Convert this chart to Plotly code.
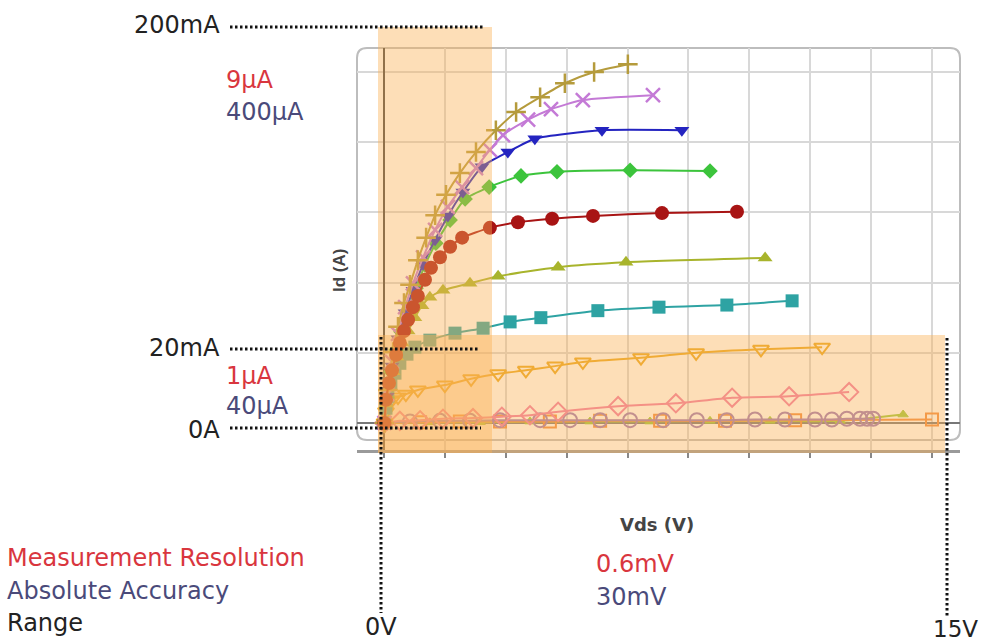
import plotly.graph_objects as go

# ---------------- data (Vds in V, Id in A) ----------------
olive_v = [0, 0.09, 0.23, 0.36, 0.52, 0.68, 0.89, 1.11, 1.35, 1.64, 2.01, 2.44, 2.97, 3.51, 4.15, 4.81, 5.59, 6.49]
olive_i = [0, 0.047, 0.101, 0.137, 0.171, 0.197, 0.232, 0.264, 0.296, 0.325, 0.356, 0.386, 0.417, 0.443, 0.464, 0.484, 0.500, 0.511]

magenta_v = [0, 0.07, 0.20, 0.36, 0.55, 0.76, 1.03, 1.35, 1.69, 2.07, 2.44, 2.81, 3.16, 3.83, 4.44, 5.29, 7.16]
magenta_i = [0, 0.041, 0.087, 0.127, 0.165, 0.199, 0.236, 0.275, 0.308, 0.336, 0.363, 0.389, 0.410, 0.432, 0.447, 0.460, 0.467]

blue_v = [0, 0.07, 0.20, 0.36, 0.55, 0.76, 1.03, 1.35, 1.69, 2.09, 2.60, 3.29, 4.01, 5.80, 7.93]
blue_i = [0, 0.038, 0.081, 0.120, 0.157, 0.189, 0.226, 0.261, 0.295, 0.329, 0.365, 0.386, 0.405, 0.417, 0.417]

green_v = [0, 0.07, 0.17, 0.31, 0.44, 0.63, 0.84, 1.08, 1.37, 1.75, 2.15, 2.79, 3.64, 4.60, 6.55, 8.68]
green_i = [0, 0.036, 0.073, 0.104, 0.130, 0.161, 0.192, 0.225, 0.256, 0.289, 0.319, 0.336, 0.352, 0.358, 0.360, 0.359]

red_v = [0, 0.04, 0.12, 0.20, 0.31, 0.41, 0.52, 0.63, 0.76, 0.89, 1.08, 1.24, 1.48, 1.75, 2.07, 2.81, 3.56, 4.47, 5.56, 7.40, 9.40]
red_i = [0, 0.033, 0.057, 0.075, 0.097, 0.114, 0.131, 0.147, 0.165, 0.181, 0.204, 0.221, 0.236, 0.251, 0.264, 0.278, 0.286, 0.291, 0.295, 0.299, 0.301]

yg_v = [0, 0.04, 0.12, 0.23, 0.33, 0.47, 0.63, 0.81, 1.00, 1.21, 1.56, 2.28, 3.03, 4.63, 6.44, 10.15]
yg_i = [0, 0.027, 0.050, 0.073, 0.094, 0.114, 0.131, 0.150, 0.167, 0.179, 0.189, 0.199, 0.209, 0.222, 0.229, 0.235]

teal_v = [0, 0.04, 0.09, 0.17, 0.28, 0.41, 0.60, 0.81, 1.21, 1.88, 2.63, 3.35, 4.17, 5.69, 7.32, 9.13, 10.87]
teal_i = [0, 0.021, 0.038, 0.056, 0.071, 0.085, 0.098, 0.108, 0.118, 0.128, 0.135, 0.144, 0.150, 0.160, 0.165, 0.168, 0.174]

gold_v = [0, 0.04, 0.09, 0.20, 0.36, 0.57, 0.89, 1.61, 2.31, 3.03, 3.77, 4.55, 5.29, 6.84, 8.31, 10.04, 11.67]
gold_i = [0, 0.016, 0.026, 0.033, 0.037, 0.041, 0.047, 0.054, 0.063, 0.070, 0.075, 0.081, 0.087, 0.093, 0.100, 0.105, 0.108]

pink_v = [0, 0.41, 0.95, 1.56, 2.36, 3.13, 3.88, 4.63, 6.23, 7.77, 9.27, 10.79, 12.39]
pink_i = [0, 0.003, 0.004, 0.006, 0.007, 0.009, 0.011, 0.016, 0.024, 0.028, 0.036, 0.038, 0.044]

purple_v = [0, 0.68, 1.48, 2.28, 3.08, 4.15, 4.95, 5.75, 6.55, 7.43, 8.33, 9.13, 9.88, 10.68, 11.48, 11.93, 12.33, 12.68, 12.87, 13.03]
purple_i = [0, 0.002, 0.003, 0.003, 0.004, 0.004, 0.004, 0.004, 0.004, 0.004, 0.004, 0.004, 0.005, 0.005, 0.005, 0.005, 0.006, 0.006, 0.006, 0.006]

orange_v = [0, 0.95, 2.01, 3.08, 4.41, 5.75, 7.35, 9.08, 10.95, 14.60]
orange_i = [0, 0.001, 0.002, 0.002, 0.002, 0.003, 0.003, 0.003, 0.004, 0.005]

lgreen_v = [0, 1.21, 2.55, 3.88, 5.48, 7.08, 8.68, 10.28, 12.15, 13.83]
lgreen_i = [0, 0.001, 0.001, 0.002, 0.002, 0.002, 0.003, 0.003, 0.003, 0.012]

# range annotation texts
i_range_hi = "200mA"
i_res_hi = "9µA"
i_acc_hi = "400µA"
i_range_lo = "20mA"
i_res_lo = "1µA"
i_acc_lo = "40µA"
i_zero = "0A"
v_res = "0.6mV"
v_acc = "30mV"
v_zero = "0V"
v_max = "15V"

# ---------------- figure ----------------
W, H = 982, 641
L, R, T, B = 357, 960, 48, 450   # plot area pixel box


def px(x):
    return (x - L) / (R - L)


def py(y):
    return (B - y) / (B - T)


fig = go.Figure()

series = [
    (lgreen_v, lgreen_i, "#9cc83c", "triangle-up", 9, 1),
    (orange_v, orange_i, "#f08a40", "square-open", 12, 2),
    (purple_v, purple_i, "#9a78b8", "circle-open", 14, 2),
    (pink_v, pink_i, "#f07aaa", "diamond-open", 14, 2),
    (gold_v, gold_i, "#e8a820", "triangle-down-open", 14, 2),
    (teal_v, teal_i, "#2ea3a3", "square", 13, 0),
    (yg_v, yg_i, "#a8b42c", "triangle-up", 13, 0),
    (green_v, green_i, "#3cc43c", "diamond", 12, 0),
    (blue_v, blue_i, "#2424c0", "triangle-down", 13, 0),
    (magenta_v, magenta_i, "#c47ad6", "x-thin", 14, 2.5),
    (olive_v, olive_i, "#b59b3c", "cross-thin", 14, 2.5),
    (red_v, red_i, "#a81414", "circle", 14, 0),
]

for xs, ys, col, sym, size, lw in series:
    fig.add_trace(go.Scatter(
        x=xs, y=ys, mode="lines+markers",
        line=dict(color=col, width=2, shape="spline", smoothing=0.6),
        marker=dict(symbol=sym, size=size, color=col,
                    line=dict(color=col, width=lw)),
        showlegend=False, hoverinfo="skip",
    ))

shapes = []
# rounded plot box
r = 10
x0, x1, y0, y1 = 357, 960, 48, 440
path = (f"M {px(x0 + r)},{py(y0)} L {px(x1 - r)},{py(y0)} "
        f"Q {px(x1)},{py(y0)} {px(x1)},{py(y0 + r)} "
        f"L {px(x1)},{py(y1 - r)} Q {px(x1)},{py(y1)} {px(x1 - r)},{py(y1)} "
        f"L {px(x0 + r)},{py(y1)} Q {px(x0)},{py(y1)} {px(x0)},{py(y1 - r)} "
        f"L {px(x0)},{py(y0 + r)} Q {px(x0)},{py(y0)} {px(x0 + r)},{py(y0)} Z")
shapes.append(dict(type="path", path=path, xref="paper", yref="paper",
                   line=dict(color="#bdbdbd", width=2), layer="below"))

# orange shaded range areas (semi-transparent overlay)
for (a, b, c, d) in [(378, 492, 27, 453), (378, 945, 335, 453)]:
    shapes.append(dict(type="rect", xref="paper", yref="paper",
                       x0=px(a), x1=px(b), y0=py(d), y1=py(c),
                       fillcolor="rgba(250,176,84,0.42)", line=dict(width=0),
                       layer="above"))

dot = dict(color="#111111", width=3, dash="2.5px,2.5px")
for (xa, xb, yy) in [(230, 483, 27), (230, 478, 349), (230, 481, 428)]:
    shapes.append(dict(type="line", xref="paper", yref="paper",
                       x0=px(xa), x1=px(xb), y0=py(yy), y1=py(yy),
                       line=dot, layer="above"))
for (xx, ya, yb) in [(381, 337, 613), (947, 338, 616)]:
    shapes.append(dict(type="line", xref="paper", yref="paper",
                       x0=px(xx), x1=px(xx), y0=py(ya), y1=py(yb),
                       line=dot, layer="above"))

RED = "#d9363e"
BLUE = "#4a4a7a"
DARK = "#222222"
F = "DejaVu Sans"
FS = 24

ann = []


def add(text, x, y, color, xanchor="left", size=FS, family=F, angle=0):
    ann.append(dict(text=text, x=px(x), y=py(y), xref="paper", yref="paper",
                    xanchor=xanchor, yanchor="middle", showarrow=False,
                    textangle=angle, borderpad=0,
                    font=dict(family=family, size=size, color=color)))


add(i_range_hi, 221, 25, DARK, "right")
add(i_res_hi, 225, 80, RED)
add(i_acc_hi, 225, 112, BLUE)
add(i_range_lo, 221, 348, DARK, "right")
add(i_res_lo, 225, 376, RED)
add(i_acc_lo, 225, 406, BLUE)
add(i_zero, 221, 430, DARK, "right")
add("Measurement Resolution", 6, 558, RED)
add("Absolute Accuracy", 6, 591, BLUE)
add("Range", 6, 623, DARK)
add(v_res, 595, 564, RED)
add(v_acc, 595, 597, BLUE)
add(v_zero, 381, 627, DARK, "center")
add(v_max, 979, 629, DARK, "right", size=23)
add("<b>Vds (V)</b>", 657, 524, "#444444", "center", size=18)
add("<b>Id (A)</b>", 339, 271, "#444444", "center", size=17,
    family="Liberation Sans", angle=-90)

fig.update_layout(
    width=W, height=H,
    margin=dict(l=L, r=W - R, t=T, b=H - B, pad=0),
    paper_bgcolor="white", plot_bgcolor="white",
    shapes=shapes, annotations=ann,
    xaxis=dict(range=[-0.733, 15.347], tick0=0, dtick=1.621,
               showgrid=True, gridcolor="#d8d8d8", gridwidth=1.5,
               showticklabels=False, ticks="outside", ticklen=5,
               tickwidth=2, tickcolor="#888888",
               showline=True, linecolor="#9a9a9a", linewidth=3,
               zeroline=True, zerolinecolor="#444444", zerolinewidth=2),
    yaxis=dict(range=[-0.0385, 0.5342], tick0=0, dtick=0.1,
               showgrid=True, gridcolor="#d8d8d8", gridwidth=1.5,
               showticklabels=False, ticks="",
               zeroline=True, zerolinecolor="#777777", zerolinewidth=1.5),
)

fig.write_html("out.html")
